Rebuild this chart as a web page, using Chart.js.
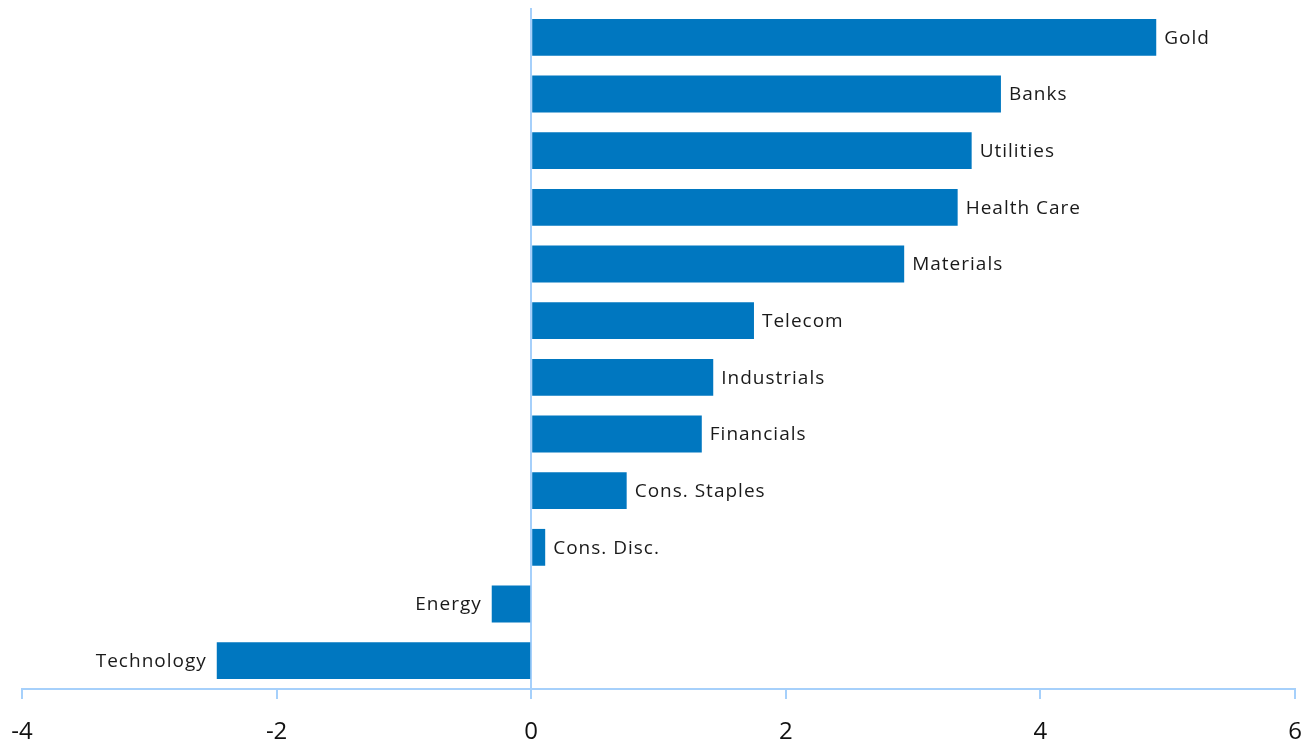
<!DOCTYPE html>
<html>
<head>
<meta charset="utf-8">
<script src="https://cdn.jsdelivr.net/npm/chart.js@4"></script>
<style>
  html, body { margin: 0; padding: 0; background: #ffffff; overflow: hidden; }
  canvas { display: block; }
</style>
</head>
<body>
<canvas id="chart" width="1312" height="745"></canvas>
<script>
// sectors, top to bottom
let sectors = ["Gold", "Banks", "Utilities", "Health Care", "Materials", "Telecom", "Industrials",
               "Financials", "Cons. Staples", "Cons. Disc.", "Energy", "Technology"]
let values = [4.91, 3.69, 3.46, 3.35, 2.93, 1.75, 1.43, 1.34, 0.75, 0.11, -0.31, -2.47]
let xTicks = [-4, -2, 0, 2, 4, 6]

let barBlue = "#0077c0"
let axisBlue = "#a6d0fb"
let textFont = "'Open Sans', 'DejaVu Sans', sans-serif"

// write the sector name beside each bar
let barLabels = {
    id: "barLabels",
    afterDatasetsDraw(chart) {
        let ctx = chart.ctx
        let meta = chart.getDatasetMeta(0)
        ctx.save()
        ctx.font = "19px " + textFont
        ctx.fillStyle = "#1a1a1a"
        ctx.textBaseline = "middle"
        try { ctx.letterSpacing = "1px" } catch (e) {}
        meta.data.forEach(function(bar, i) {
            let v = values[i]
            if (v >= 0) {
                ctx.textAlign = "left"
                ctx.fillText(sectors[i], bar.x + 8, bar.y + 1)
            } else {
                ctx.textAlign = "right"
                ctx.fillText(sectors[i], bar.x - 10, bar.y + 1)
            }
        })
        ctx.restore()
    }
}

let ctx = document.getElementById("chart").getContext("2d")
let chart = new Chart(ctx, {
    type: "bar",
    data: {
        labels: sectors,
        datasets: [{
            data: values,
            backgroundColor: barBlue,
            borderWidth: 0,
            barPercentage: 0.65,
            categoryPercentage: 1
        }]
    },
    options: {
        indexAxis: "y",
        responsive: false,
        animation: false,
        layout: { padding: { left: 22, right: 17, top: 9, bottom: 0 } },
        plugins: {
            legend: { display: false },
            tooltip: { enabled: false }
        },
        scales: {
            x: {
                min: -4,
                max: 6,
                afterBuildTicks: function(axis) {
                    axis.ticks = xTicks.map(function(v) { return { value: v } })
                },
                afterFit: function(axis) {
                    // keep the plot edges fixed, labels may hang over
                    axis.paddingLeft = 0
                    axis.paddingRight = 0
                    axis.height = 56
                },
                grid: {
                    drawOnChartArea: false,
                    drawTicks: true,
                    tickLength: 10,
                    color: axisBlue,
                    lineWidth: 2
                },
                border: { display: true, color: axisBlue, width: 2 },
                ticks: {
                    color: "#111111",
                    font: { family: textFont, size: 24 },
                    padding: 19,
                    maxRotation: 0
                }
            },
            y: {
                position: { x: 0 },
                grid: { display: false },
                border: { display: true, color: axisBlue, width: 2 },
                ticks: { display: false }
            }
        }
    },
    plugins: [barLabels]
})
</script>
</body>
</html>
